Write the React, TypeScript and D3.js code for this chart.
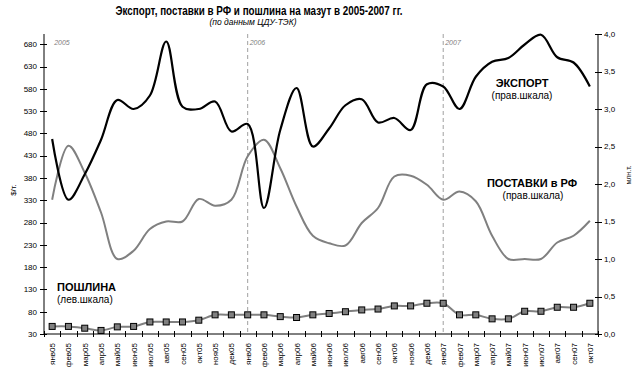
import React from 'react';
import * as d3 from 'd3';

// месяцы (подписи оси X)
const months = [
  'янв05', 'фев05', 'мар05', 'апр05', 'май05', 'июн05', 'июл05', 'авг05', 'сен05', 'окт05', 'ноя05', 'дек05',
  'янв06', 'фев06', 'мар06', 'апр06', 'май06', 'июн06', 'июл06', 'авг06', 'сен06', 'окт06', 'ноя06', 'дек06',
  'янв07', 'фев07', 'мар07', 'апр07', 'май07', 'июн07', 'июл07', 'авг07', 'сен07', 'окт07',
];

// экспорт, млн.т. (правая шкала)
const exportVals = [
  2.60, 1.79, 2.13, 2.59, 3.12, 3.00, 3.18, 3.90, 3.03, 3.00, 3.10, 2.70,
  2.80, 1.68, 2.72, 3.28, 2.50, 2.74, 3.05, 3.13, 2.82, 2.88, 2.72, 3.33,
  3.30, 3.00, 3.43, 3.63, 3.68, 3.86, 3.99, 3.69, 3.62, 3.30,
];

// поставки в РФ, млн.т. (правая шкала)
const supplyVals = [
  1.79, 2.51, 2.15, 1.62, 1.00, 1.11, 1.40, 1.50, 1.50, 1.80, 1.71, 1.79,
  2.37, 2.59, 2.21, 1.70, 1.31, 1.21, 1.18, 1.48, 1.68, 2.10, 2.11, 1.99,
  1.79, 1.90, 1.77, 1.31, 1.00, 1.00, 1.00, 1.22, 1.31, 1.51,
];

// пошлина, $/т. (левая шкала)
const dutyVals = [
  47, 47, 43, 38, 46, 47, 57, 57, 57, 61, 73, 73,
  73, 73, 69, 67, 73, 76, 80, 84, 86, 93, 93, 99,
  99, 73, 73, 64, 64, 81, 81, 90, 90, 99,
];

const leftTicks = [30, 80, 130, 180, 230, 280, 330, 380, 430, 480, 530, 580, 630, 680];
const rightTicks = [0, 0.5, 1, 1.5, 2, 2.5, 3, 3.5, 4];
const yearMarks = [
  { label: '2005', month: 'янв05' },
  { label: '2006', month: 'янв06' },
  { label: '2007', month: 'янв07' },
];

const FONT = 'Liberation Sans, Arial, sans-serif';
const GRAY = '#808080';

export default function App() {
  const width = 639;
  const height = 368;
  const left = 44;
  const right = 598;
  const top = 34;
  const bottom = 334;

  const x = d3.scaleBand().domain(months).range([left, right]);
  const cx = (m: string) => (x(m) as number) + x.bandwidth() / 2;
  const yL = d3.scaleLinear().domain([30, 703]).range([bottom, top]);
  const yR = d3.scaleLinear().domain([0, 4]).range([bottom, top]);

  const curve = d3.curveCatmullRom.alpha(0.5);
  const lineR = d3.line<number>().x((d, i) => cx(months[i])).y(d => yR(d)).curve(curve);
  const lineL = d3.line<number>().x((d, i) => cx(months[i])).y(d => yL(d)).curve(curve);

  const bounds = d3.range(months.length + 1).map(i => left + i * x.bandwidth());

  return (
    <svg width={width} height={height} style={{ position: 'absolute', left: 0, top: 0, background: '#fff' }} fontFamily={FONT}>
      {/* заголовок */}
      <text x={259} y={15} textAnchor="middle" fontSize={12.5} fontWeight="bold"
        textLength={287} lengthAdjust="spacingAndGlyphs">
        Экспорт, поставки в РФ и пошлина на мазут в 2005-2007 гг.
      </text>
      <text x={253} y={25} textAnchor="middle" fontSize={8.5} fontStyle="italic">(по данным ЦДУ-ТЭК)</text>

      {/* границы годов */}
      {yearMarks.map(d => (
        <g key={d.label}>
          {d.month !== 'янв05' && (
            <line x1={cx(d.month)} x2={cx(d.month)} y1={top} y2={bottom} stroke="#a0a0a0" strokeDasharray="4,3" />
          )}
          <text x={cx(d.month) + 2} y={45} fontSize={7} fontStyle="italic" fill={GRAY}>{d.label}</text>
        </g>
      ))}

      {/* линии */}
      <path d={lineR(supplyVals) || ''} fill="none" stroke={GRAY} strokeWidth={2} />
      <path d={lineR(exportVals) || ''} fill="none" stroke="#000" strokeWidth={2.2} />
      <path d={lineL(dutyVals) || ''} fill="none" stroke={GRAY} strokeWidth={2} />
      {dutyVals.map((d, i) => (
        <rect key={i} x={cx(months[i]) - 3} y={yL(d) - 3} width={6} height={6} fill={GRAY} stroke="#000" strokeWidth={1} />
      ))}

      {/* левая ось */}
      <line x1={left} x2={left} y1={top} y2={bottom} stroke="#000" />
      {leftTicks.map(t => (
        <g key={t}>
          <line x1={left - 4} x2={left + 3} y1={Math.round(yL(t)) + 0.5} y2={Math.round(yL(t)) + 0.5} stroke="#000" />
          <text x={37} y={yL(t)} dy="0.35em" textAnchor="end" fontSize={8}>{t}</text>
        </g>
      ))}
      <text transform={`translate(16,190) rotate(-90)`} textAnchor="middle" fontSize={8}>$/т.</text>

      {/* правая ось */}
      <line x1={right} x2={right} y1={top} y2={bottom} stroke="#000" />
      {rightTicks.map(t => (
        <g key={t}>
          <line x1={right - 3} x2={right + 4} y1={Math.round(yR(t)) + 0.5} y2={Math.round(yR(t)) + 0.5} stroke="#000" />
          <text x={604} y={yR(t)} dy="0.35em" fontSize={8}>{d3.format('.1f')(t).replace('.', ',')}</text>
        </g>
      ))}
      <text transform={`translate(631,175) rotate(-90)`} textAnchor="middle" fontSize={7}>млн.т.</text>

      {/* ось X */}
      <line x1={left} x2={right} y1={bottom} y2={bottom} stroke="#000" />
      {bounds.map((b, i) => (
        <line key={i} x1={Math.round(b) + 0.5} x2={Math.round(b) + 0.5} y1={bottom - 3} y2={bottom + 3} stroke="#000" />
      ))}
      {months.map(m => (
        <text key={m} transform={`translate(${cx(m) + 3},343) rotate(-90)`} textAnchor="end" fontSize={8}>{m}</text>
      ))}

      {/* подписи серий */}
      <text x={522} y={87} textAnchor="middle" fontSize={11} fontWeight="bold">ЭКСПОРТ</text>
      <text x={522} y={99} textAnchor="middle" fontSize={10}>(прав.шкала)</text>
      <text x={532} y={187} textAnchor="middle" fontSize={11} fontWeight="bold">ПОСТАВКИ в РФ</text>
      <text x={533} y={199} textAnchor="middle" fontSize={10}>(прав.шкала)</text>
      <text x={57} y={291} fontSize={11} fontWeight="bold">ПОШЛИНА</text>
      <text x={57} y={303} fontSize={10}>(лев.шкала)</text>
    </svg>
  );
}
